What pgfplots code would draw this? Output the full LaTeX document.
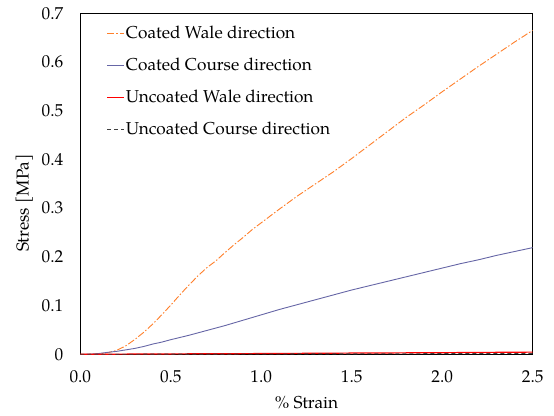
\documentclass[border=0pt]{standalone}
\usepackage{fontspec}
\setmainfont{TeX Gyre Pagella}
\usepackage{pgfplots}
\pgfplotsset{compat=1.18}
\usetikzlibrary{calc}
\definecolor{cwale}{HTML}{FF7F2A}
\definecolor{ccourse}{HTML}{6666A6}
\definecolor{uwale}{HTML}{FF0000}
\definecolor{ucourse}{HTML}{404040}
\pgfplotstableread{
x y
0 0
0.05 0.0002
0.10 0.001
0.15 0.003
0.20 0.008
0.25 0.017
0.30 0.030
0.35 0.045
0.40 0.062
0.45 0.081
0.50 0.101
0.55 0.122
0.60 0.142
0.65 0.161
0.70 0.178
0.75 0.192
0.80 0.209
0.85 0.225
0.90 0.240
0.95 0.256
1.00 0.270
1.10 0.298
1.20 0.325
1.30 0.350
1.40 0.375
1.50 0.402
1.60 0.430
1.70 0.458
1.80 0.486
1.90 0.512
2.00 0.539
2.10 0.565
2.20 0.591
2.30 0.616
2.40 0.641
2.50 0.665
}\coatedwale
\pgfplotstableread{
x y
0 0
0.05 0.0003
0.10 0.0015
0.15 0.004
0.20 0.006
0.25 0.009
0.30 0.012
0.35 0.016
0.40 0.021
0.45 0.025
0.50 0.030
0.60 0.039
0.70 0.049
0.80 0.059
0.90 0.070
1.00 0.081
1.10 0.092
1.20 0.102
1.30 0.112
1.40 0.122
1.50 0.132
1.60 0.141
1.70 0.150
1.80 0.159
1.90 0.168
2.00 0.177
2.10 0.186
2.20 0.194
2.30 0.203
2.40 0.211
2.50 0.219
}\coatedcourse
\pgfplotstableread{
x y
0 0
0.5 0.0008
1.0 0.0015
1.5 0.0025
2.0 0.0033
2.5 0.0045
}\uncoatedwale
\pgfplotstableread{
x y
0 0
0.5 0.0003
1.0 0.0006
1.5 0.0010
2.0 0.0013
2.5 0.0017
}\uncoatedcourse
\begin{document}
\begin{tikzpicture}
\begin{axis}[
  scale only axis,
  width=452.4bp, height=341bp,
  xmin=0, xmax=2.5, ymin=0, ymax=0.7,
  xtick={0,0.5,1.0,1.5,2.0,2.5},
  ytick={0,0.1,0.2,0.3,0.4,0.5,0.6,0.7},
  major tick length=0pt,
  axis line style={black, line width=0.9bp},
  /pgf/number format/assume math mode=true,
  xticklabel style={/pgf/number format/.cd, fixed, fixed zerofill, precision=1, /tikz/.cd, yshift=-13bp},
  yticklabel style={/pgf/number format/.cd, fixed, precision=1, /tikz/.cd, xshift=-13.5bp},
  tick label style={font=\fontsize{17.3}{20}\selectfont},
  label style={font=\fontsize{17.3}{20}\selectfont},
  xlabel={\% Strain},
  ylabel={Stress [MPa]},
  xlabel style={at={(axis description cs:0.5,-0.142)}, anchor=center},
  ylabel style={at={(axis description cs:-0.124,0.444)}, anchor=center},
  legend cell align=left,
  legend style={draw=none, fill=none, at={(axis description cs:0.058,0.965)}, anchor=north west,
    row sep=16bp, font=\fontsize{17.3}{20}\selectfont, inner sep=0pt,
    nodes={inner sep=1bp}},
]
\addplot[color=cwale, line width=0.9bp, dash pattern=on 7bp off 2bp on 1.5bp off 2bp] table[x=x,y=y]{\coatedwale};
\addplot[color=ccourse, line width=0.9bp] table[x=x,y=y]{\coatedcourse};
\addplot[color=uwale, line width=1.2bp] table[x=x,y=y]{\uncoatedwale};
\addplot[color=ucourse, line width=0.9bp, dash pattern=on 4bp off 3bp] table[x=x,y=y]{\uncoatedcourse};
\addlegendimage{legend image code/.code={\draw[cwale, line width=0.9bp, dash pattern=on 7bp off 2bp on 1.5bp off 2bp] (0bp,0bp) -- (29bp,0bp);}}
\addlegendentry{Coated Wale direction}
\addlegendimage{legend image code/.code={\draw[ccourse, line width=0.9bp] (0bp,0bp) -- (29bp,0bp);}}
\addlegendentry{Coated Course direction}
\addlegendimage{legend image code/.code={\draw[uwale, line width=1.8bp] (0bp,0bp) -- (29bp,0bp);}}
\addlegendentry{Uncoated Wale direction}
\addlegendimage{legend image code/.code={\draw[ucourse, line width=0.9bp, dash pattern=on 4bp off 3bp] (0bp,0bp) -- (29bp,0bp);}}
\addlegendentry{Uncoated Course direction}
\end{axis}
\pgfresetboundingbox
\path[use as bounding box] ($(current axis.south west)+(-80.3bp,-61.7bp)$) rectangle ($(current axis.north east)+(21.3bp,13.3bp)$);
\end{tikzpicture}
\end{document}
